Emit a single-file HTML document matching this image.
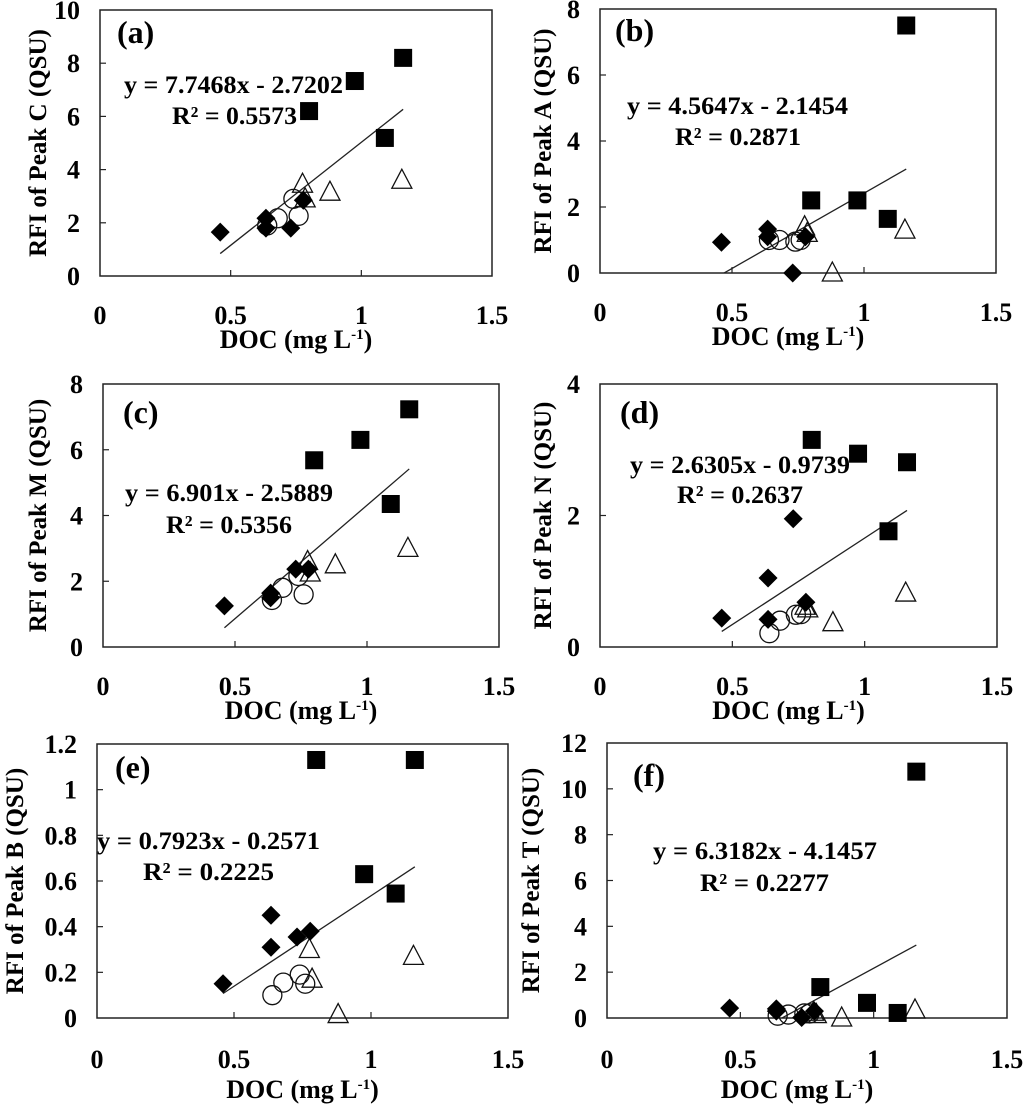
<!DOCTYPE html>
<html><head><meta charset="utf-8"><style>
body{margin:0;background:#fff}
svg{display:block;font-family:"Liberation Serif",serif;font-weight:bold}
</style></head><body>
<svg id="fig" width="1024" height="1104" viewBox="0 0 1024 1104"></svg>
<script>
const panelLabels=["(a)","(b)","(c)","(d)","(e)","(f)"];
const yTitles=["RFI of Peak C (QSU)","RFI of Peak A (QSU)","RFI of Peak M (QSU)","RFI of Peak N (QSU)","RFI of Peak B (QSU)","RFI of Peak T (QSU)"];
const yMax=[10,8,8,4,1.2,12];
const yStep=[2,2,2,2,0.2,2];
const xTicks=[0,0.5,1,1.5];
const eqText=["y = 7.7468x - 2.7202","y = 4.5647x - 2.1454","y = 6.901x - 2.5889","y = 2.6305x - 0.9739","y = 0.7923x - 0.2571","y = 6.3182x - 4.1457"];
const r2Text=["R² = 0.5573","R² = 0.2871","R² = 0.5356","R² = 0.2637","R² = 0.2225","R² = 0.2277"];
const slopes=[7.7468,4.5647,6.901,2.6305,0.7923,6.3182];
const intercepts=[-2.7202,-2.1454,-2.5889,-0.9739,-0.2571,-4.1457];
const sqX=[0.80,0.975,1.09,1.16];
const dmX=[0.46,0.635,0.635,0.73,0.778];
const ciX=[0.64,0.68,0.74,0.76];
const trX=[0.775,0.785,0.88,1.155];
const sqY=[[6.2,7.33,5.19,8.2],[2.2,2.2,1.64,7.5],[5.68,6.3,4.35,7.23],[3.15,2.94,1.76,2.81],[1.13,0.63,0.545,1.13],[1.35,0.66,0.22,10.75]];
const dmY=[[1.65,2.17,1.8,1.8,2.85],[0.93,1.33,1.1,0,1.1],[1.25,1.64,1.5,2.37,2.37],[0.44,1.05,0.42,1.95,0.68],[0.15,0.45,0.31,0.355,0.38],[0.43,0.4,0.3,0.02,0.3]];
const ciY=[[1.9,2.17,2.9,2.26],[1.0,1.0,0.95,1.0],[1.43,1.8,2.16,1.6],[0.21,0.4,0.49,0.5],[0.10,0.155,0.19,0.15],[0.1,0.15,0.2,0.2]];
const trY=[[3.45,2.9,3.15,3.6],[1.4,1.2,0,1.3],[2.6,2.25,2.5,3.0],[0.62,0.58,0.37,0.82],[0.30,0.17,0.015,0.27],[0.25,0.15,0,0.35]];

// layout (pixel geometry)
const boxes=[[100,492,10,276],[600,996,9,273],[103,499,384,647],[600,997,384,647],[97,508,744,1018],[607,1007,743,1018]];
const eqPos=[[124,343,93,172,297,124],[627,848,114,675,801,145],[125,333,501,166,292,533],[630,850,473,677,803,503],[97,320,849,143,274,880],[653,877,859,700,829,891]];
const lblPos=[[117,43],[615,41],[123,423],[620,423],[115,778],[633,786]];
const yTitleX=[37,542,37,542,14,530];

const NS="http://www.w3.org/2000/svg";
const svg=document.getElementById('fig');
function mk(tag,attrs,parent,text){const e=document.createElementNS(NS,tag);for(const k in attrs)e.setAttribute(k,attrs[k]);if(text!==undefined)e.textContent=text;(parent||svg).appendChild(e);return e;}
function fmt(v){return (Math.round(v*10)/10).toString();}

for(let p=0;p<6;p++){
  const [L,R,T,B]=boxes[p];
  const sx=v=>L+(R-L)*v/1.5;
  const sy=v=>B-(B-T)*v/yMax[p];
  const g=mk('g',{});
  
  
  const box=mk('rect',{x:L,y:T,width:R-L,height:B-T,fill:'none',stroke:'#222','stroke-width':1.5},g);
  
  
  const n=Math.round(yMax[p]/yStep[p]);
  for(let i=0;i<=n;i++){
    const v=i*yStep[p];const y=sy(v);
    if(i>0&&i<n)mk('line',{x1:L,x2:L+6,y1:y,y2:y,stroke:'#222','stroke-width':1.2},g);
    const t=mk('text',{x:L-20,y:y+9,'text-anchor':'end','font-size':26},g,fmt(v));
    
    
  }
  xTicks.forEach((v,i)=>{
    const x=sx(v);
    if(i>0&&i<xTicks.length-1)mk('line',{x1:x,x2:x,y1:B,y2:B-6,stroke:'#222','stroke-width':1.2},g);
    const t=mk('text',{x:x,y:B+(p<4?48:50),'text-anchor':'middle','font-size':26},g,fmt(v));
    
    
  });
  const xt=mk('text',{x:(L+R)/2-(p%2?10:0),y:B+(p<4?72:80),'text-anchor':'middle','font-size':26},g);
  
  
  xt.appendChild(document.createTextNode('DOC (mg L'));
  mk('tspan',{'font-size':15,dy:-9},xt,'-1');
  mk('tspan',{dy:9},xt,')');
  const cy=(T+B)/2;
  const yt=mk('text',{x:0,y:0,transform:`translate(${yTitleX[p]+9},${cy}) rotate(-90)`,'text-anchor':'middle','font-size':25},g,yTitles[p]);
  
  
  const pl=mk('text',{x:lblPos[p][0],y:lblPos[p][1],'font-size':32},g,panelLabels[p]);
  
  
  const cp=mk('clipPath',{id:'c'+p},g);mk('rect',{x:L,y:T,width:R-L,height:B-T},cp);
  const x0=0.46,x1=1.16;
  const ln=mk('line',{x1:sx(x0),y1:sy(slopes[p]*x0+intercepts[p]),x2:sx(x1),y2:sy(slopes[p]*x1+intercepts[p]),stroke:'#222','stroke-width':1.3,'clip-path':`url(#c${p})`},g);
  
  
  ciX.forEach((v,i)=>{const c=mk('circle',{cx:sx(v),cy:sy(ciY[p][i]),r:9.5,fill:'none',stroke:'#111','stroke-width':1.3},g);
    
    });
  trX.forEach((v,i)=>{const x=sx(v),y=sy(trY[p][i]);const t=mk('polygon',{points:`${x},${y-11} ${x-10},${y+8} ${x+10},${y+8}`,fill:'none',stroke:'#111','stroke-width':1.3},g);
    
    });
  dmX.forEach((v,i)=>{const x=sx(v),y=sy(dmY[p][i]);const d=mk('polygon',{points:`${x},${y-9.5} ${x+9.5},${y} ${x},${y+9.5} ${x-9.5},${y}`,fill:'#000'},g);
    
    });
  sqX.forEach((v,i)=>{const x=sx(v),y=sy(sqY[p][i]);const s=mk('rect',{x:x-9,y:y-9,width:18,height:18,fill:'#000'},g);
    
    });
  const e=eqPos[p];
  const et=mk('text',{x:e[0],y:e[2],'font-size':25,textLength:e[1]-e[0],lengthAdjust:'spacingAndGlyphs'},g,eqText[p]);
  
  
  const rt=mk('text',{x:e[3],y:e[5],'font-size':25,textLength:e[4]-e[3],lengthAdjust:'spacingAndGlyphs'},g,r2Text[p]);
  
  
}
</script>
</body></html>
